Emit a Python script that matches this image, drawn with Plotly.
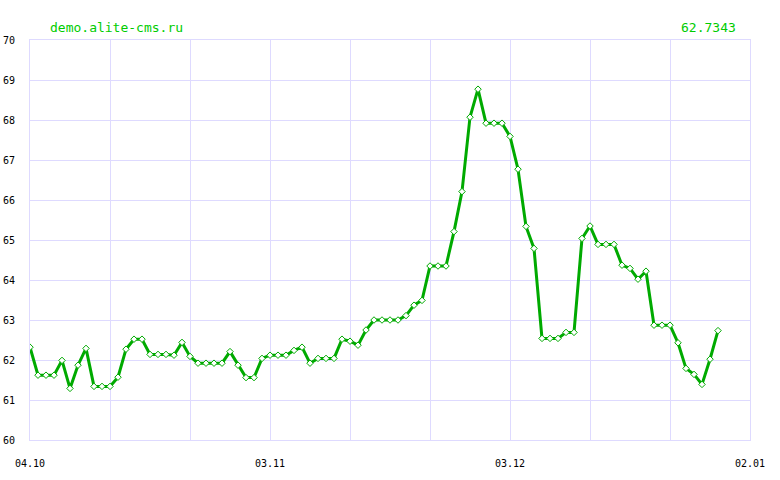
import datetime as dt
import plotly.graph_objects as go

start = dt.date(2009, 10, 4)
values = [
    62.32, 61.62, 61.62, 61.62, 61.99, 61.29, 61.87, 62.29, 61.34, 61.34,
    61.34, 61.57, 62.27, 62.52, 62.52, 62.14, 62.14, 62.14, 62.12, 62.44,
    62.09, 61.92, 61.92, 61.92, 61.92, 62.21, 61.87, 61.56, 61.56, 62.04,
    62.12, 62.12, 62.12, 62.24, 62.32, 61.92, 62.04, 62.04, 62.04, 62.52,
    62.47, 62.37, 62.75, 63.00, 63.00, 63.00, 63.00, 63.11, 63.37, 63.49,
    64.35, 64.35, 64.35, 65.21, 66.21, 68.07, 68.77, 67.92, 67.92, 67.92,
    67.59, 66.77, 65.34, 64.79, 62.54, 62.54, 62.54, 62.69, 62.69, 65.04,
    65.35, 64.89, 64.89, 64.89, 64.37, 64.29, 64.02, 64.22, 62.87, 62.87,
    62.87, 62.43, 61.79, 61.64, 61.39, 62.02, 62.7343,
]
dates = [start + dt.timedelta(days=i) for i in range(len(values))]
title_left = "demo.alite-cms.ru"
title_right = "62.7343"

grid_dates = [start + dt.timedelta(days=10 * i) for i in range(10)]
grid_text = [d.strftime("%d.%m") if i % 3 == 0 else "" for i, d in enumerate(grid_dates)]
y_ticks = list(range(60, 71))

grid = "#dedaff"
fig = go.Figure()
fig.add_trace(go.Scatter(
    x=dates, y=values, mode="lines+markers",
    line=dict(color="#00aa00", width=3),
    marker=dict(symbol="diamond", size=5, color="white",
                line=dict(color="#00aa00", width=1)),
    hoverinfo="skip",
))
fig.update_layout(
    width=780, height=480,
    margin=dict(l=30, r=30, t=40, b=40, autoexpand=False),
    paper_bgcolor="white", plot_bgcolor="white",
    showlegend=False,
    font=dict(family="DejaVu Sans Mono", size=10, color="#000000"),
    xaxis=dict(
        range=[grid_dates[0], grid_dates[-1]],
        tickvals=grid_dates, ticktext=grid_text,
        showgrid=True, gridcolor=grid, gridwidth=1,
        showline=True, linecolor=grid, mirror=True,
        zeroline=False, ticks="", ticklabelstandoff=14, automargin=False,
    ),
    yaxis=dict(
        range=[60, 70], tickvals=y_ticks,
        showgrid=True, gridcolor=grid, gridwidth=1,
        showline=True, linecolor=grid, mirror=True,
        zeroline=False, ticks="", ticklabelstandoff=12, automargin=False,
        tickfont=dict(size=10),
    ),
    annotations=[
        dict(text=title_left, x=(48 - 30) / 720, y=1 + 12 / 400, xref="paper", yref="paper",
             showarrow=False, xanchor="left", yanchor="middle",
             font=dict(family="DejaVu Sans Mono", size=13, color="#00cc00")),
        dict(text=title_right, x=(738 - 30) / 720, y=1 + 12 / 400, xref="paper", yref="paper",
             showarrow=False, xanchor="right", yanchor="middle",
             font=dict(family="DejaVu Sans Mono", size=13, color="#00cc00")),
    ],
)
fig.write_html("out.html")
